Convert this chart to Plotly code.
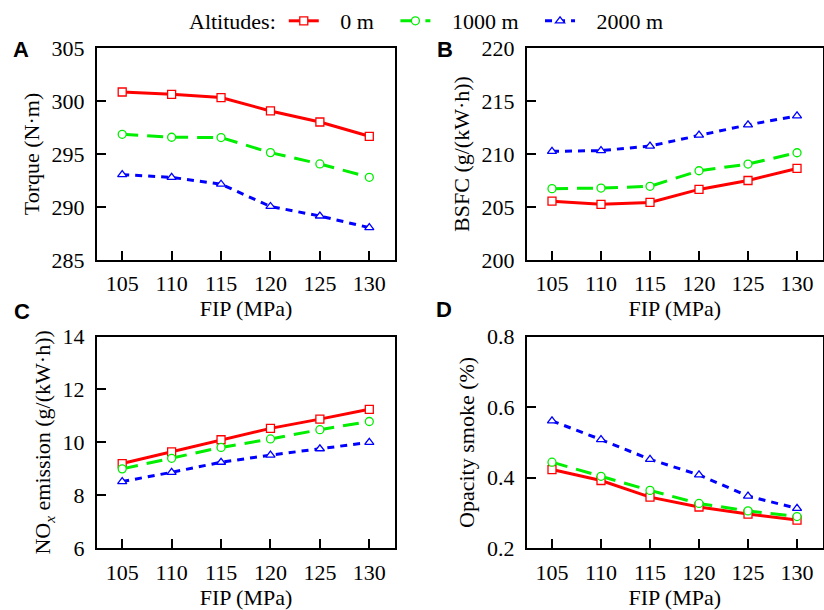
import plotly.graph_objects as go

fip = [105, 110, 115, 120, 125, 130]
altitudes = ["0 m", "1000 m", "2000 m"]

torque_0 = [300.85, 300.63, 300.32, 299.06, 298.02, 296.67]
torque_1000 = [296.86, 296.58, 296.55, 295.13, 294.06, 292.8]
torque_2000 = [293.05, 292.8, 292.15, 290.05, 289.15, 288.05]

bsfc_0 = [205.55, 205.25, 205.43, 206.66, 207.5, 208.64]
bsfc_1000 = [206.73, 206.79, 206.95, 208.42, 209.05, 210.12]
bsfc_2000 = [210.25, 210.32, 210.75, 211.78, 212.75, 213.6]

nox_0 = [9.2, 9.64, 10.1, 10.53, 10.88, 11.25]
nox_1000 = [9.0, 9.4, 9.81, 10.13, 10.48, 10.79]
nox_2000 = [8.52, 8.87, 9.25, 9.52, 9.76, 10.0]

smoke_0 = [0.423, 0.392, 0.345, 0.317, 0.297, 0.28]
smoke_1000 = [0.444, 0.404, 0.364, 0.327, 0.306, 0.29]
smoke_2000 = [0.561, 0.508, 0.452, 0.408, 0.348, 0.313]

panels = [
    ("A", "Torque (N·m)", [torque_0, torque_1000, torque_2000], [285, 305], 5, None),
    ("B", "BSFC (g/(kW·h))", [bsfc_0, bsfc_1000, bsfc_2000], [200, 220], 5, None),
    ("C", "NO<sub><i>x</i></sub> emission (g/(kW·h))", [nox_0, nox_1000, nox_2000], [6, 14], 2, None),
    ("D", "Opacity smoke (%)", [smoke_0, smoke_1000, smoke_2000], [0.2, 0.8], 0.2, ".1f"),
]

W, H = 824, 610
xdom = [(97 / W, 395 / W), (527 / W, 822.5 / W)]
ydom = [(1 - 260 / H, 1 - 48 / H), (1 - 548.3 / H, 1 - 336.5 / H)]

colors = ["#FF0000", "#00EE00", "#0000FF"]
dashes = ["solid", "16px,9px", "7px,6px"]
symbols = ["square", "circle", "triangle-up"]

serif = "Liberation Serif, serif"
FS = 22
pad = "\u00a0\u00a0\u00a0"

fig = go.Figure()
letter_pos = [(21, 49), (445, 49), (21.5, 311.5), (444.5, 309)]

for i, (letter, ytitle, series, yr, dt, fmt) in enumerate(panels):
    row, col = divmod(i, 2)
    n = i + 1
    xa = "x" if n == 1 else f"x{n}"
    ya = "y" if n == 1 else f"y{n}"
    for k, vals in enumerate(series):
        fig.add_trace(go.Scatter(
            x=fip, y=vals, xaxis=xa, yaxis=ya,
            mode="lines+markers",
            name=pad + altitudes[k] + pad, showlegend=(i == 0), legendgroup=altitudes[k],
            line=dict(color=colors[k], width=3, dash=dashes[k]),
            marker=dict(symbol=symbols[k], size=8, color="white",
                        line=dict(color=colors[k], width=1.3)),
        ))
    axis_common = dict(
        showline=True, linecolor="black", linewidth=2, mirror=True,
        ticks="inside", ticklen=9, tickwidth=2, tickcolor="black",
        showgrid=False, zeroline=False, automargin=False,
        tickfont=dict(family=serif, size=FS, color="black"),
    )
    fig.layout[("xaxis" if n == 1 else f"xaxis{n}")] = dict(
        axis_common, domain=list(xdom[col]), anchor=ya, range=[102.45, 132.6],
        tickvals=fip, ticklabelstandoff=3,
        title=dict(text="FIP (MPa)", font=dict(family=serif, size=FS, color="black"), standoff=0),
    )
    fig.layout[("yaxis" if n == 1 else f"yaxis{n}")] = dict(
        axis_common, domain=list(ydom[row]), anchor=xa, range=yr, dtick=dt,
        tickformat=fmt, ticklabelstandoff=6,
        title=dict(text=ytitle, font=dict(family=serif, size=FS, color="black"), standoff=6),
    )
    lx, ly = letter_pos[i]
    fig.add_annotation(text=f"<b>{letter}</b>", x=lx / W, y=1 - ly / H, xref="paper", yref="paper",
                       showarrow=False, xanchor="center", yanchor="middle",
                       font=dict(family="Liberation Sans, Arial, sans-serif", size=22, color="black"))

fig.update_layout(
    width=W, height=H, template="none",
    paper_bgcolor="white", plot_bgcolor="white",
    margin=dict(l=0, r=0, t=0, b=0, autoexpand=False),
    legend=dict(orientation="h", x=436 / W, xanchor="center", xref="container",
                y=1.0, yanchor="top", yref="container",
                title=dict(text="Altitudes:", side="left", font=dict(family=serif, size=FS, color="black")),
                font=dict(family=serif, size=FS, color="black"),
                bgcolor="rgba(0,0,0,0)"),
)

fig.write_html("out.html", config={"displayModeBar": False},
               post_script="document.body.style.margin='0';document.body.style.overflow='hidden';")
